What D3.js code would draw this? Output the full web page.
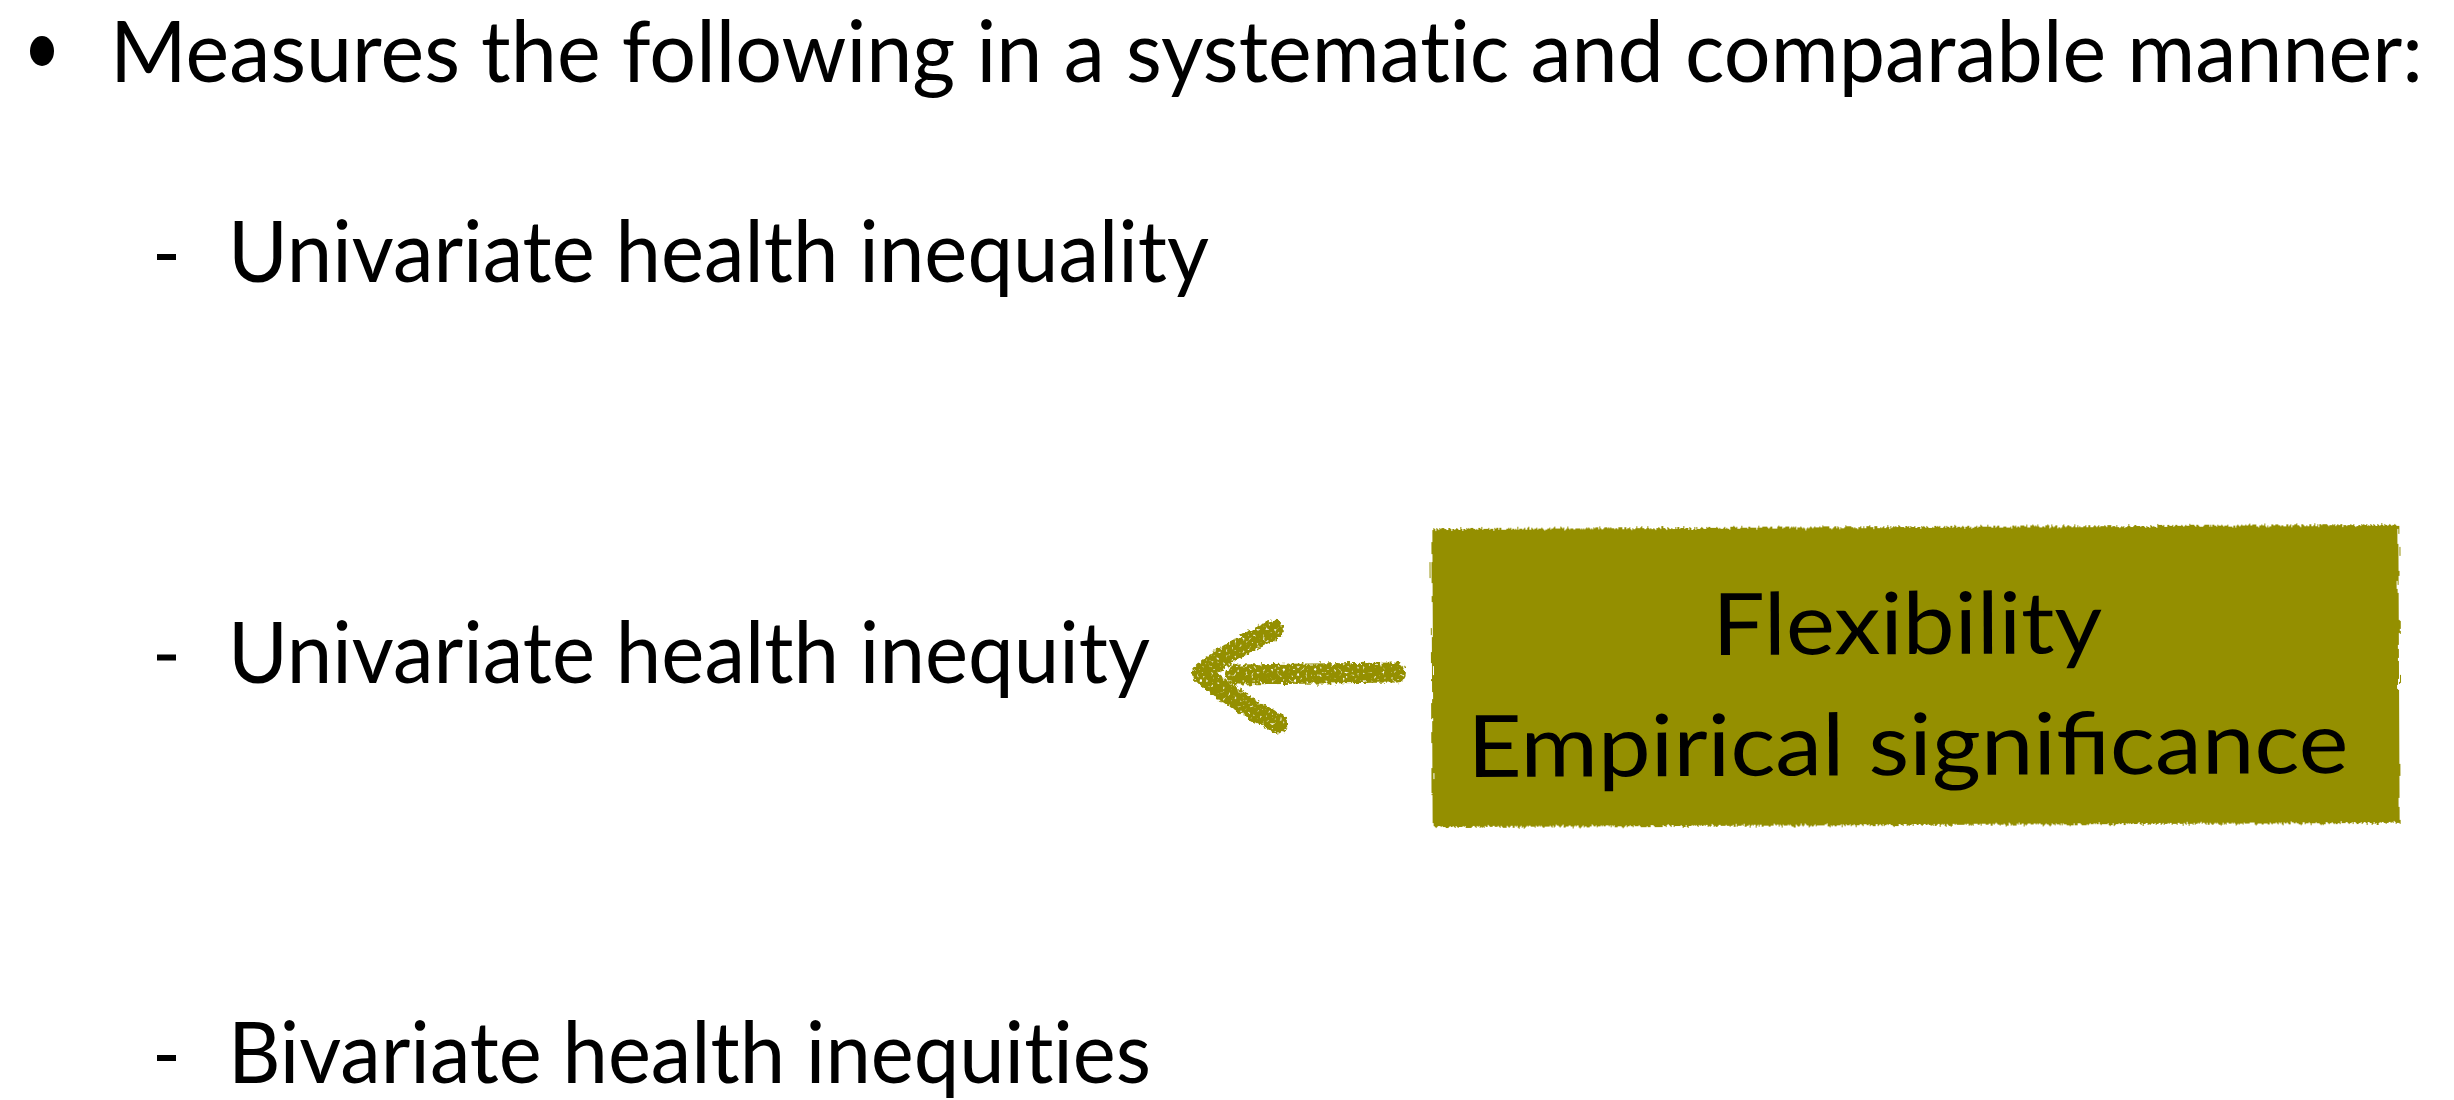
<!DOCTYPE html>
<html>
<head>
<meta charset="utf-8">
<script src="https://cdn.jsdelivr.net/npm/d3@7"></script>
<style>
body{margin:0;background:#fff;overflow:hidden}
svg{display:block}
text{font-variant-ligatures:no-common-ligatures;font-feature-settings:"liga" 0}
text.keepfi{font-variant-ligatures:common-ligatures;font-feature-settings:"liga" 1}
</style>
</head>
<body>
<svg id="slide"></svg>
<script>
// slide content
var headline = ["Measures the following in a systematic and comparable manner:"];
var items = ["Univariate health inequality", "Univariate health inequity", "Bivariate health inequities"];
var boxLines = ["Flexibility", "Empirical significance"];
var arrowTarget = [1]; // index of item the box points at

var W = 2454, H = 1100;
var font = "Lato, 'Open Sans', sans-serif";
var fs = 86;
var olive = "#948f00";

var titleX = 110, titleW = 2313, titleY = 82;
var itemX = 228, itemW = [981, 922, 923];
var dashX = 157;
var box = {x: 1432, y: 527, w: 967, h: 298};
var boxW = [390, 881];

var svg = d3.select("#slide").attr("width", W).attr("height", H);

var defs = svg.append("defs");
var chalk = defs.append("filter").attr("id", "chalk")
	.attr("x", "-10%").attr("y", "-30%").attr("width", "120%").attr("height", "160%");
chalk.append("feTurbulence").attr("type", "fractalNoise").attr("baseFrequency", 0.25)
	.attr("numOctaves", 2).attr("seed", 3).attr("result", "n");
chalk.append("feDisplacementMap").attr("in", "SourceGraphic").attr("in2", "n")
	.attr("scale", 7).attr("xChannelSelector", "R").attr("yChannelSelector", "G").attr("result", "d");
chalk.append("feTurbulence").attr("type", "fractalNoise").attr("baseFrequency", 0.35)
	.attr("numOctaves", 1).attr("seed", 9).attr("result", "s");
chalk.append("feColorMatrix").attr("in", "s").attr("type", "matrix")
	.attr("values", "0 0 0 0 0  0 0 0 0 0  0 0 0 0 0  -7 0 0 0 5.3").attr("result", "holes");
chalk.append("feComposite").attr("in", "d").attr("in2", "holes").attr("operator", "in");

var rough = defs.append("filter").attr("id", "rough")
	.attr("x", "-5%").attr("y", "-10%").attr("width", "110%").attr("height", "120%");
rough.append("feTurbulence").attr("type", "fractalNoise").attr("baseFrequency", "0.6 0.05")
	.attr("numOctaves", 2).attr("seed", 5).attr("result", "n");
rough.append("feDisplacementMap").attr("in", "SourceGraphic").attr("in2", "n")
	.attr("scale", 7).attr("xChannelSelector", "R").attr("yChannelSelector", "G");

// headline with bullet
svg.append("ellipse")
	.attr("cx", 42).attr("cy", 51).attr("rx", 12).attr("ry", 15)
	.attr("fill", "#000");
svg.selectAll("text.head")
	.data(headline)
	.enter().append("text")
	.attr("class", "head")
	.attr("x", titleX).attr("y", titleY)
	.attr("textLength", titleW).attr("lengthAdjust", "spacingAndGlyphs")
	.attr("font-family", font).attr("font-size", fs)
	.text(function(d){return d});

// sub items
var y = d3.scaleLinear().domain([0, items.length - 1]).range([282, 1083]);
var rows = svg.selectAll("g.item")
	.data(items)
	.enter().append("g")
	.attr("class", "item")
	.attr("transform", function(d, i){return "translate(0," + y(i) + ")"});
rows.append("rect")
	.attr("x", dashX).attr("y", -28).attr("width", 19).attr("height", 6)
	.attr("fill", "#000");
rows.append("text")
	.attr("x", itemX)
	.attr("textLength", function(d, i){return itemW[i]})
	.attr("lengthAdjust", "spacingAndGlyphs")
	.attr("font-family", font).attr("font-size", fs)
	.text(function(d){return d});

// olive box
var bx = svg.append("g").attr("transform", "rotate(-0.25," + (box.x + box.w / 2) + "," + (box.y + box.h / 2) + ")");
bx.append("rect")
	.attr("x", box.x).attr("y", box.y).attr("width", box.w).attr("height", box.h)
	.attr("fill", olive).attr("filter", "url(#rough)");
var ly = d3.scaleLinear().domain([0, boxLines.length - 1]).range([654, 775]);
bx.selectAll("text")
	.data(boxLines)
	.enter().append("text")
	.attr("class", "keepfi")
	.attr("x", box.x + box.w / 2 - 8)
	.attr("y", function(d, i){return ly(i)})
	.attr("text-anchor", "middle")
	.attr("textLength", function(d, i){return boxW[i]})
	.attr("lengthAdjust", "spacingAndGlyphs")
	.attr("font-family", font).attr("font-size", fs)
	.text(function(d){return d});

// chalk arrow from the box to the item
var ay = y(arrowTarget[0]) - 9;
var tipX = 1202;
var arrow = svg.append("g").attr("filter", "url(#chalk)")
	.attr("stroke", olive).attr("fill", "none")
	.attr("stroke-linecap", "round").attr("stroke-linejoin", "round");
arrow.append("path")
	.attr("stroke-width", 20)
	.attr("d", "M" + (box.x - 36) + "," + (ay - 1) + " L" + (tipX + 34) + "," + (ay + 1));
arrow.append("path")
	.attr("stroke-width", 20)
	.attr("d", "M" + (tipX + 72) + "," + (ay - 44) +
		" Q" + (tipX + 25) + "," + (ay - 22) + " " + tipX + "," + ay +
		" Q" + (tipX + 30) + "," + (ay + 26) + " " + (tipX + 76) + "," + (ay + 50));
</script>
</body>
</html>
